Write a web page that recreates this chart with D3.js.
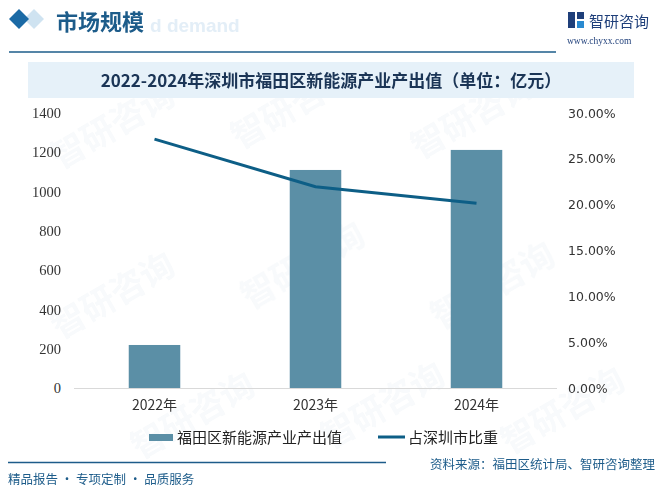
<!DOCTYPE html>
<html>
<head>
<meta charset="utf-8">
<script src="https://cdn.jsdelivr.net/npm/d3@7"></script>
<style>
  body { margin: 0; background: #fff; }
  svg { display: block; }
</style>
</head>
<body>
<svg id="chart" width="660" height="495"></svg>
<script>
// data
var years = ["2022年", "2023年", "2024年"];
var output = [219, 1110, 1212];        // 福田区新能源产业产出值（亿元）
var share = [0.2715, 0.2195, 0.2015];  // 占深圳市比重
var leftTicks = [0, 200, 400, 600, 800, 1000, 1200, 1400];
var rightTicks = [0, 0.05, 0.10, 0.15, 0.20, 0.25, 0.30];

var svg = d3.select("#chart");
var cjk = "'Noto Sans CJK SC', 'Noto Sans', sans-serif";

// faint watermarks
var wm = svg.append("g").attr("opacity", 0.035);
[[60, 170], [240, 150], [420, 160], [60, 340], [250, 310], [440, 330], [140, 460], [330, 450], [510, 455]].forEach(function (p) {
    var g = wm.append("g").attr("transform", "translate(" + p[0] + "," + p[1] + ") rotate(-30)");
    g.append("text").attr("x", 0).attr("y", 0)
        .style("font-family", cjk).style("font-size", "34px").style("font-weight", "bold")
        .attr("fill", "#1f5f8f").text("智研咨询");
});

// header
svg.append("path").attr("d", "M24,19 L34,9 L44,19 L34,29 Z").attr("fill", "#cfe3f1");
svg.append("path").attr("d", "M9,19 L19,9 L29,19 L19,29 Z").attr("fill", "#1b6aa5");
svg.append("text").attr("x", 150).attr("y", 32)
    .style("font-family", "Arial, sans-serif").style("font-size", "19px").style("font-weight", "bold")
    .attr("fill", "#e3eef7").text("d demand");
svg.append("text").attr("x", 56).attr("y", 30)
    .style("font-family", cjk).style("font-size", "22px").style("font-weight", "bold")
    .attr("fill", "#1d5c8a").text("市场规模");
svg.append("line").attr("x1", 9).attr("x2", 556).attr("y1", 52).attr("y2", 52)
    .attr("stroke", "#1d5c8a").attr("stroke-width", 1.5);

// logo
var logo = svg.append("g").attr("transform", "translate(568,12)");
logo.append("rect").attr("x", 0).attr("y", 0).attr("width", 7).attr("height", 16).attr("fill", "#1f3f7a");
logo.append("rect").attr("x", 9).attr("y", 0).attr("width", 7).attr("height", 7).attr("fill", "#1f3f7a");
logo.append("rect").attr("x", 9).attr("y", 9).attr("width", 7).attr("height", 7).attr("fill", "#2a8ad0");
svg.append("text").attr("x", 589).attr("y", 27)
    .style("font-family", cjk).style("font-size", "15px")
    .attr("fill", "#1f3f7a").text("智研咨询");
svg.append("text").attr("x", 567).attr("y", 44)
    .style("font-family", "'Liberation Serif', serif").style("font-size", "9.5px")
    .attr("fill", "#1f3f7a").text("www.chyxx.com");

// title box
svg.append("rect").attr("x", 28).attr("y", 62).attr("width", 606).attr("height", 36)
    .attr("fill", "#e6f1f9");
svg.append("text").attr("x", 331).attr("y", 87).attr("text-anchor", "middle")
    .style("font-family", cjk).style("font-size", "17px").style("font-weight", "bold")
    .attr("fill", "#1b3556").text("2022-2024年深圳市福田区新能源产业产出值（单位：亿元）");

// scales
var x = d3.scaleBand().domain(years).range([74, 557]).paddingInner(0.68).paddingOuter(0.34);
var y = d3.scaleLinear().domain([0, 1400]).range([388, 113]);
var y2 = d3.scaleLinear().domain([0, 0.30]).range([388, 113]);

// axes
var leftAxis = svg.append("g").attr("transform", "translate(63,0)")
    .call(d3.axisLeft(y).tickValues(leftTicks).tickSize(0).tickPadding(2).tickFormat(d3.format("d")));
leftAxis.select(".domain").remove();
leftAxis.selectAll("text").style("font-family", "'Liberation Serif', serif")
    .style("font-size", "14.5px").attr("fill", "#333");

var rightAxis = svg.append("g").attr("transform", "translate(566,0)")
    .call(d3.axisRight(y2).tickValues(rightTicks).tickSize(0).tickPadding(2)
        .tickFormat(d3.format(".2%")));
rightAxis.select(".domain").remove();
rightAxis.selectAll("text").style("font-family", "'DejaVu Sans', sans-serif")
    .style("font-size", "12.5px").attr("fill", "#333");

// bars
svg.append("g").selectAll("rect").data(output).enter().append("rect")
    .attr("x", function (d, i) { return x(years[i]); })
    .attr("y", function (d) { return y(d); })
    .attr("width", x.bandwidth())
    .attr("height", function (d) { return y(0) - y(d); })
    .attr("fill", "#5b8fa6");

var bottomAxis = svg.append("g").attr("transform", "translate(0,388)")
    .call(d3.axisBottom(x).tickSize(0).tickPadding(12));
bottomAxis.select(".domain").attr("stroke", "#d9d9d9").attr("d", "M74,0.5H557");
bottomAxis.selectAll("text").style("font-family", cjk)
    .style("font-size", "14px").attr("fill", "#333");

// line
var line = d3.line()
    .x(function (d, i) { return x(years[i]) + x.bandwidth() / 2; })
    .y(function (d) { return y2(d); });
svg.append("path").datum(share).attr("d", line)
    .attr("fill", "none").attr("stroke", "#0d5e86").attr("stroke-width", 3);

// legend
var lg = svg.append("g").attr("transform", "translate(0,437)");
lg.append("rect").attr("x", 149).attr("y", -3).attr("width", 24).attr("height", 7).attr("fill", "#5b8fa6");
lg.append("text").attr("x", 177).attr("y", 6)
    .style("font-family", cjk).style("font-size", "15px").attr("fill", "#222")
    .text("福田区新能源产业产出值");
lg.append("line").attr("x1", 378).attr("x2", 405).attr("y1", 0).attr("y2", 0)
    .attr("stroke", "#0d5e86").attr("stroke-width", 3);
lg.append("text").attr("x", 408).attr("y", 6)
    .style("font-family", cjk).style("font-size", "15px").attr("fill", "#222")
    .text("占深圳市比重");

// footer
svg.append("line").attr("x1", 8).attr("x2", 386).attr("y1", 462.5).attr("y2", 462.5)
    .attr("stroke", "#1d5c8a").attr("stroke-width", 1.5);
svg.append("text").attr("x", 8).attr("y", 484)
    .style("font-family", cjk).style("font-size", "12.5px").attr("fill", "#1d5c8a")
    .text("精品报告 · 专项定制 · 品质服务");
svg.append("text").attr("x", 655).attr("y", 469).attr("text-anchor", "end")
    .style("font-family", cjk).style("font-size", "12.5px").attr("fill", "#1d5c8a")
    .text("资料来源：福田区统计局、智研咨询整理");
</script>
</body>
</html>
